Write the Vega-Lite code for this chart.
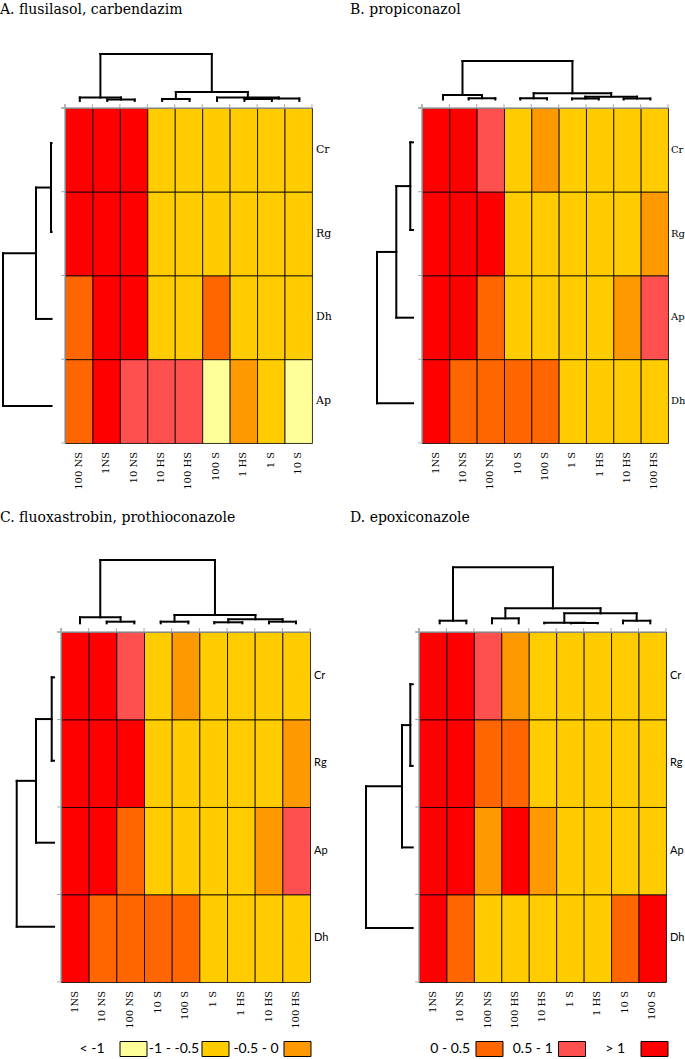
{
"$schema":"https://vega.github.io/schema/vega-lite/v6.json",
"padding":{"top":3,"left":0,"right":0,"bottom":0},
"config":{"view":{"stroke":null}},
"datasets":{
"tk":[{"k":0},{"k":1},{"k":2},{"k":3},{"k":4},{"k":5},{"k":6},{"k":7},{"k":8},{"k":9}],
"legend":[{"v":"< -1","g":1},{"v":"-1 - -0.5","g":1},{"v":"-0.5 - 0","g":1},{"v":"0 - 0.5","g":2},{"v":"0.5 - 1","g":2},{"v":"> 1","g":2}],
"dendro":[
{"p":"A","s":"t","a":1.54,"b":2.54,"ha":-0.084,"hb":-0.084,"h":-0.101},
{"p":"A","s":"t","a":0.54,"b":2.04,"ha":-0.084,"hb":-0.101,"h":-0.125},
{"p":"A","s":"t","a":3.54,"b":4.54,"ha":-0.084,"hb":-0.084,"h":-0.107},
{"p":"A","s":"t","a":6.54,"b":7.54,"ha":-0.084,"hb":-0.084,"h":-0.107},
{"p":"A","s":"t","a":7.04,"b":8.54,"ha":-0.107,"hb":-0.084,"h":-0.113},
{"p":"A","s":"t","a":5.54,"b":7.79,"ha":-0.084,"hb":-0.113,"h":-0.125},
{"p":"A","s":"t","a":4.04,"b":6.665,"ha":-0.107,"hb":-0.125,"h":-0.191},
{"p":"A","s":"t","a":1.29,"b":5.35,"ha":-0.125,"hb":-0.191,"h":-0.645},
{"p":"A","s":"l","a":0.418,"b":1.481,"ha":-0.49,"hb":-0.49,"h":-0.51},
{"p":"A","s":"l","a":0.95,"b":2.519,"ha":-0.51,"hb":-0.49,"h":-1.057},
{"p":"A","s":"l","a":1.734,"b":3.558,"ha":-1.057,"hb":-0.49,"h":-2.26},
{"p":"B","s":"t","a":1.709,"b":2.682,"ha":-0.101,"hb":-0.101,"h":-0.116},
{"p":"B","s":"t","a":0.768,"b":2.196,"ha":-0.101,"hb":-0.116,"h":-0.155},
{"p":"B","s":"t","a":3.597,"b":4.574,"ha":-0.101,"hb":-0.101,"h":-0.116},
{"p":"B","s":"t","a":5.488,"b":6.465,"ha":-0.101,"hb":-0.101,"h":-0.113},
{"p":"B","s":"t","a":7.38,"b":8.353,"ha":-0.101,"hb":-0.101,"h":-0.113},
{"p":"B","s":"t","a":5.977,"b":7.867,"ha":-0.113,"hb":-0.113,"h":-0.135},
{"p":"B","s":"t","a":4.086,"b":6.922,"ha":-0.116,"hb":-0.135,"h":-0.176},
{"p":"B","s":"t","a":1.482,"b":5.504,"ha":-0.155,"hb":-0.176,"h":-0.561},
{"p":"B","s":"l","a":0.41,"b":1.457,"ha":-0.329,"hb":-0.329,"h":-0.428},
{"p":"B","s":"l","a":0.933,"b":2.504,"ha":-0.428,"hb":-0.329,"h":-0.94},
{"p":"B","s":"l","a":1.719,"b":3.526,"ha":-0.94,"hb":-0.329,"h":-1.647},
{"p":"C","s":"t","a":1.652,"b":2.649,"ha":-0.099,"hb":-0.099,"h":-0.118},
{"p":"C","s":"t","a":0.687,"b":2.151,"ha":-0.099,"hb":-0.118,"h":-0.168},
{"p":"C","s":"t","a":3.603,"b":4.601,"ha":-0.099,"hb":-0.099,"h":-0.118},
{"p":"C","s":"t","a":5.54,"b":6.552,"ha":-0.099,"hb":-0.099,"h":-0.111},
{"p":"C","s":"t","a":7.517,"b":8.493,"ha":-0.099,"hb":-0.099,"h":-0.118},
{"p":"C","s":"t","a":6.046,"b":8.005,"ha":-0.111,"hb":-0.118,"h":-0.145},
{"p":"C","s":"t","a":4.102,"b":7.026,"ha":-0.118,"hb":-0.145,"h":-0.194},
{"p":"C","s":"t","a":1.419,"b":5.564,"ha":-0.168,"hb":-0.194,"h":-0.823},
{"p":"C","s":"l","a":0.518,"b":1.471,"ha":-0.253,"hb":-0.253,"h":-0.336},
{"p":"C","s":"l","a":0.995,"b":2.408,"ha":-0.336,"hb":-0.253,"h":-0.904},
{"p":"C","s":"l","a":1.701,"b":3.368,"ha":-0.904,"hb":-0.253,"h":-1.601},
{"p":"D","s":"t","a":0.754,"b":1.724,"ha":-0.099,"hb":-0.099,"h":-0.129},
{"p":"D","s":"t","a":2.66,"b":3.633,"ha":-0.099,"hb":-0.099,"h":-0.156},
{"p":"D","s":"t","a":5.539,"b":6.512,"ha":-0.099,"hb":-0.099,"h":-0.103},
{"p":"D","s":"t","a":4.566,"b":6.026,"ha":-0.099,"hb":-0.103,"h":-0.105},
{"p":"D","s":"t","a":7.434,"b":8.429,"ha":-0.099,"hb":-0.099,"h":-0.129},
{"p":"D","s":"t","a":5.296,"b":7.932,"ha":-0.105,"hb":-0.129,"h":-0.213},
{"p":"D","s":"t","a":3.147,"b":6.614,"ha":-0.156,"hb":-0.213,"h":-0.271},
{"p":"D","s":"t","a":1.239,"b":4.881,"ha":-0.129,"hb":-0.271,"h":-0.739},
{"p":"D","s":"l","a":0.597,"b":1.53,"ha":-0.23,"hb":-0.23,"h":-0.317},
{"p":"D","s":"l","a":1.064,"b":2.462,"ha":-0.317,"hb":-0.23,"h":-0.62},
{"p":"D","s":"l","a":1.763,"b":3.382,"ha":-0.62,"hb":-0.23,"h":-1.931}
],
"cells":[
{"p":"A","c":"100 NS","i":0,"r":"Cr","j":0,"v":"> 1"},
{"p":"A","c":"1NS","i":1,"r":"Cr","j":0,"v":"> 1"},
{"p":"A","c":"10 NS","i":2,"r":"Cr","j":0,"v":"> 1"},
{"p":"A","c":"10 HS","i":3,"r":"Cr","j":0,"v":"-1 - -0.5"},
{"p":"A","c":"100 HS","i":4,"r":"Cr","j":0,"v":"-1 - -0.5"},
{"p":"A","c":"100 S","i":5,"r":"Cr","j":0,"v":"-1 - -0.5"},
{"p":"A","c":"1 HS","i":6,"r":"Cr","j":0,"v":"-1 - -0.5"},
{"p":"A","c":"1 S","i":7,"r":"Cr","j":0,"v":"-1 - -0.5"},
{"p":"A","c":"10 S","i":8,"r":"Cr","j":0,"v":"-1 - -0.5"},
{"p":"A","c":"100 NS","i":0,"r":"Rg","j":1,"v":"> 1"},
{"p":"A","c":"1NS","i":1,"r":"Rg","j":1,"v":"> 1"},
{"p":"A","c":"10 NS","i":2,"r":"Rg","j":1,"v":"> 1"},
{"p":"A","c":"10 HS","i":3,"r":"Rg","j":1,"v":"-1 - -0.5"},
{"p":"A","c":"100 HS","i":4,"r":"Rg","j":1,"v":"-1 - -0.5"},
{"p":"A","c":"100 S","i":5,"r":"Rg","j":1,"v":"-1 - -0.5"},
{"p":"A","c":"1 HS","i":6,"r":"Rg","j":1,"v":"-1 - -0.5"},
{"p":"A","c":"1 S","i":7,"r":"Rg","j":1,"v":"-1 - -0.5"},
{"p":"A","c":"10 S","i":8,"r":"Rg","j":1,"v":"-1 - -0.5"},
{"p":"A","c":"100 NS","i":0,"r":"Dh","j":2,"v":"0 - 0.5"},
{"p":"A","c":"1NS","i":1,"r":"Dh","j":2,"v":"> 1"},
{"p":"A","c":"10 NS","i":2,"r":"Dh","j":2,"v":"> 1"},
{"p":"A","c":"10 HS","i":3,"r":"Dh","j":2,"v":"-1 - -0.5"},
{"p":"A","c":"100 HS","i":4,"r":"Dh","j":2,"v":"-1 - -0.5"},
{"p":"A","c":"100 S","i":5,"r":"Dh","j":2,"v":"0 - 0.5"},
{"p":"A","c":"1 HS","i":6,"r":"Dh","j":2,"v":"-1 - -0.5"},
{"p":"A","c":"1 S","i":7,"r":"Dh","j":2,"v":"-1 - -0.5"},
{"p":"A","c":"10 S","i":8,"r":"Dh","j":2,"v":"-1 - -0.5"},
{"p":"A","c":"100 NS","i":0,"r":"Ap","j":3,"v":"0 - 0.5"},
{"p":"A","c":"1NS","i":1,"r":"Ap","j":3,"v":"> 1"},
{"p":"A","c":"10 NS","i":2,"r":"Ap","j":3,"v":"0.5 - 1"},
{"p":"A","c":"10 HS","i":3,"r":"Ap","j":3,"v":"0.5 - 1"},
{"p":"A","c":"100 HS","i":4,"r":"Ap","j":3,"v":"0.5 - 1"},
{"p":"A","c":"100 S","i":5,"r":"Ap","j":3,"v":"< -1"},
{"p":"A","c":"1 HS","i":6,"r":"Ap","j":3,"v":"-0.5 - 0"},
{"p":"A","c":"1 S","i":7,"r":"Ap","j":3,"v":"-1 - -0.5"},
{"p":"A","c":"10 S","i":8,"r":"Ap","j":3,"v":"< -1"},
{"p":"B","c":"1NS","i":0,"r":"Cr","j":0,"v":"> 1"},
{"p":"B","c":"10 NS","i":1,"r":"Cr","j":0,"v":"> 1"},
{"p":"B","c":"100 NS","i":2,"r":"Cr","j":0,"v":"0.5 - 1"},
{"p":"B","c":"10 S","i":3,"r":"Cr","j":0,"v":"-1 - -0.5"},
{"p":"B","c":"100 S","i":4,"r":"Cr","j":0,"v":"-0.5 - 0"},
{"p":"B","c":"1 S","i":5,"r":"Cr","j":0,"v":"-1 - -0.5"},
{"p":"B","c":"1 HS","i":6,"r":"Cr","j":0,"v":"-1 - -0.5"},
{"p":"B","c":"10 HS","i":7,"r":"Cr","j":0,"v":"-1 - -0.5"},
{"p":"B","c":"100 HS","i":8,"r":"Cr","j":0,"v":"-1 - -0.5"},
{"p":"B","c":"1NS","i":0,"r":"Rg","j":1,"v":"> 1"},
{"p":"B","c":"10 NS","i":1,"r":"Rg","j":1,"v":"> 1"},
{"p":"B","c":"100 NS","i":2,"r":"Rg","j":1,"v":"> 1"},
{"p":"B","c":"10 S","i":3,"r":"Rg","j":1,"v":"-1 - -0.5"},
{"p":"B","c":"100 S","i":4,"r":"Rg","j":1,"v":"-1 - -0.5"},
{"p":"B","c":"1 S","i":5,"r":"Rg","j":1,"v":"-1 - -0.5"},
{"p":"B","c":"1 HS","i":6,"r":"Rg","j":1,"v":"-1 - -0.5"},
{"p":"B","c":"10 HS","i":7,"r":"Rg","j":1,"v":"-1 - -0.5"},
{"p":"B","c":"100 HS","i":8,"r":"Rg","j":1,"v":"-0.5 - 0"},
{"p":"B","c":"1NS","i":0,"r":"Ap","j":2,"v":"> 1"},
{"p":"B","c":"10 NS","i":1,"r":"Ap","j":2,"v":"> 1"},
{"p":"B","c":"100 NS","i":2,"r":"Ap","j":2,"v":"0 - 0.5"},
{"p":"B","c":"10 S","i":3,"r":"Ap","j":2,"v":"-1 - -0.5"},
{"p":"B","c":"100 S","i":4,"r":"Ap","j":2,"v":"-1 - -0.5"},
{"p":"B","c":"1 S","i":5,"r":"Ap","j":2,"v":"-1 - -0.5"},
{"p":"B","c":"1 HS","i":6,"r":"Ap","j":2,"v":"-1 - -0.5"},
{"p":"B","c":"10 HS","i":7,"r":"Ap","j":2,"v":"-0.5 - 0"},
{"p":"B","c":"100 HS","i":8,"r":"Ap","j":2,"v":"0.5 - 1"},
{"p":"B","c":"1NS","i":0,"r":"Dh","j":3,"v":"> 1"},
{"p":"B","c":"10 NS","i":1,"r":"Dh","j":3,"v":"0 - 0.5"},
{"p":"B","c":"100 NS","i":2,"r":"Dh","j":3,"v":"0 - 0.5"},
{"p":"B","c":"10 S","i":3,"r":"Dh","j":3,"v":"0 - 0.5"},
{"p":"B","c":"100 S","i":4,"r":"Dh","j":3,"v":"0 - 0.5"},
{"p":"B","c":"1 S","i":5,"r":"Dh","j":3,"v":"-1 - -0.5"},
{"p":"B","c":"1 HS","i":6,"r":"Dh","j":3,"v":"-1 - -0.5"},
{"p":"B","c":"10 HS","i":7,"r":"Dh","j":3,"v":"-1 - -0.5"},
{"p":"B","c":"100 HS","i":8,"r":"Dh","j":3,"v":"-1 - -0.5"},
{"p":"C","c":"1NS","i":0,"r":"Cr","j":0,"v":"> 1"},
{"p":"C","c":"10 NS","i":1,"r":"Cr","j":0,"v":"> 1"},
{"p":"C","c":"100 NS","i":2,"r":"Cr","j":0,"v":"0.5 - 1"},
{"p":"C","c":"10 S","i":3,"r":"Cr","j":0,"v":"-1 - -0.5"},
{"p":"C","c":"100 S","i":4,"r":"Cr","j":0,"v":"-0.5 - 0"},
{"p":"C","c":"1 S","i":5,"r":"Cr","j":0,"v":"-1 - -0.5"},
{"p":"C","c":"1 HS","i":6,"r":"Cr","j":0,"v":"-1 - -0.5"},
{"p":"C","c":"10 HS","i":7,"r":"Cr","j":0,"v":"-1 - -0.5"},
{"p":"C","c":"100 HS","i":8,"r":"Cr","j":0,"v":"-1 - -0.5"},
{"p":"C","c":"1NS","i":0,"r":"Rg","j":1,"v":"> 1"},
{"p":"C","c":"10 NS","i":1,"r":"Rg","j":1,"v":"> 1"},
{"p":"C","c":"100 NS","i":2,"r":"Rg","j":1,"v":"> 1"},
{"p":"C","c":"10 S","i":3,"r":"Rg","j":1,"v":"-1 - -0.5"},
{"p":"C","c":"100 S","i":4,"r":"Rg","j":1,"v":"-1 - -0.5"},
{"p":"C","c":"1 S","i":5,"r":"Rg","j":1,"v":"-1 - -0.5"},
{"p":"C","c":"1 HS","i":6,"r":"Rg","j":1,"v":"-1 - -0.5"},
{"p":"C","c":"10 HS","i":7,"r":"Rg","j":1,"v":"-1 - -0.5"},
{"p":"C","c":"100 HS","i":8,"r":"Rg","j":1,"v":"-0.5 - 0"},
{"p":"C","c":"1NS","i":0,"r":"Ap","j":2,"v":"> 1"},
{"p":"C","c":"10 NS","i":1,"r":"Ap","j":2,"v":"> 1"},
{"p":"C","c":"100 NS","i":2,"r":"Ap","j":2,"v":"0 - 0.5"},
{"p":"C","c":"10 S","i":3,"r":"Ap","j":2,"v":"-1 - -0.5"},
{"p":"C","c":"100 S","i":4,"r":"Ap","j":2,"v":"-1 - -0.5"},
{"p":"C","c":"1 S","i":5,"r":"Ap","j":2,"v":"-1 - -0.5"},
{"p":"C","c":"1 HS","i":6,"r":"Ap","j":2,"v":"-1 - -0.5"},
{"p":"C","c":"10 HS","i":7,"r":"Ap","j":2,"v":"-0.5 - 0"},
{"p":"C","c":"100 HS","i":8,"r":"Ap","j":2,"v":"0.5 - 1"},
{"p":"C","c":"1NS","i":0,"r":"Dh","j":3,"v":"> 1"},
{"p":"C","c":"10 NS","i":1,"r":"Dh","j":3,"v":"0 - 0.5"},
{"p":"C","c":"100 NS","i":2,"r":"Dh","j":3,"v":"0 - 0.5"},
{"p":"C","c":"10 S","i":3,"r":"Dh","j":3,"v":"0 - 0.5"},
{"p":"C","c":"100 S","i":4,"r":"Dh","j":3,"v":"0 - 0.5"},
{"p":"C","c":"1 S","i":5,"r":"Dh","j":3,"v":"-1 - -0.5"},
{"p":"C","c":"1 HS","i":6,"r":"Dh","j":3,"v":"-1 - -0.5"},
{"p":"C","c":"10 HS","i":7,"r":"Dh","j":3,"v":"-1 - -0.5"},
{"p":"C","c":"100 HS","i":8,"r":"Dh","j":3,"v":"-1 - -0.5"},
{"p":"D","c":"1NS","i":0,"r":"Cr","j":0,"v":"> 1"},
{"p":"D","c":"10 NS","i":1,"r":"Cr","j":0,"v":"> 1"},
{"p":"D","c":"100 NS","i":2,"r":"Cr","j":0,"v":"0.5 - 1"},
{"p":"D","c":"100 HS","i":3,"r":"Cr","j":0,"v":"-0.5 - 0"},
{"p":"D","c":"10 HS","i":4,"r":"Cr","j":0,"v":"-1 - -0.5"},
{"p":"D","c":"1 S","i":5,"r":"Cr","j":0,"v":"-1 - -0.5"},
{"p":"D","c":"1 HS","i":6,"r":"Cr","j":0,"v":"-1 - -0.5"},
{"p":"D","c":"10 S","i":7,"r":"Cr","j":0,"v":"-1 - -0.5"},
{"p":"D","c":"100 S","i":8,"r":"Cr","j":0,"v":"-1 - -0.5"},
{"p":"D","c":"1NS","i":0,"r":"Rg","j":1,"v":"> 1"},
{"p":"D","c":"10 NS","i":1,"r":"Rg","j":1,"v":"> 1"},
{"p":"D","c":"100 NS","i":2,"r":"Rg","j":1,"v":"0 - 0.5"},
{"p":"D","c":"100 HS","i":3,"r":"Rg","j":1,"v":"0 - 0.5"},
{"p":"D","c":"10 HS","i":4,"r":"Rg","j":1,"v":"-1 - -0.5"},
{"p":"D","c":"1 S","i":5,"r":"Rg","j":1,"v":"-1 - -0.5"},
{"p":"D","c":"1 HS","i":6,"r":"Rg","j":1,"v":"-1 - -0.5"},
{"p":"D","c":"10 S","i":7,"r":"Rg","j":1,"v":"-1 - -0.5"},
{"p":"D","c":"100 S","i":8,"r":"Rg","j":1,"v":"-1 - -0.5"},
{"p":"D","c":"1NS","i":0,"r":"Ap","j":2,"v":"> 1"},
{"p":"D","c":"10 NS","i":1,"r":"Ap","j":2,"v":"> 1"},
{"p":"D","c":"100 NS","i":2,"r":"Ap","j":2,"v":"-0.5 - 0"},
{"p":"D","c":"100 HS","i":3,"r":"Ap","j":2,"v":"> 1"},
{"p":"D","c":"10 HS","i":4,"r":"Ap","j":2,"v":"-0.5 - 0"},
{"p":"D","c":"1 S","i":5,"r":"Ap","j":2,"v":"-1 - -0.5"},
{"p":"D","c":"1 HS","i":6,"r":"Ap","j":2,"v":"-1 - -0.5"},
{"p":"D","c":"10 S","i":7,"r":"Ap","j":2,"v":"-1 - -0.5"},
{"p":"D","c":"100 S","i":8,"r":"Ap","j":2,"v":"-1 - -0.5"},
{"p":"D","c":"1NS","i":0,"r":"Dh","j":3,"v":"> 1"},
{"p":"D","c":"10 NS","i":1,"r":"Dh","j":3,"v":"0 - 0.5"},
{"p":"D","c":"100 NS","i":2,"r":"Dh","j":3,"v":"-1 - -0.5"},
{"p":"D","c":"100 HS","i":3,"r":"Dh","j":3,"v":"-1 - -0.5"},
{"p":"D","c":"10 HS","i":4,"r":"Dh","j":3,"v":"-1 - -0.5"},
{"p":"D","c":"1 S","i":5,"r":"Dh","j":3,"v":"-1 - -0.5"},
{"p":"D","c":"1 HS","i":6,"r":"Dh","j":3,"v":"-1 - -0.5"},
{"p":"D","c":"10 S","i":7,"r":"Dh","j":3,"v":"0 - 0.5"},
{"p":"D","c":"100 S","i":8,"r":"Dh","j":3,"v":"> 1"}
]
},
"spacing":11,
"vconcat":[
{"hconcat":[
{"width":335,"height":472,
"title":{"text":"A. flusilasol, carbendazim","anchor":"start","frame":"group","font":"DejaVu Serif","fontSize":14,"fontWeight":"normal","color":"#000","offset":11},
"layer":[
{"data":{"name":"cells"},"transform":[{"filter":"datum.p==='A'"}],"mark":{"type":"rect","stroke":"#000","strokeWidth":0.8},
"encoding":{"x":{"field":"i","type":"quantitative","bin":{"binned":true,"step":1},"scale":{"domain":[-2.369,9.84],"nice":false,"zero":false},"axis":null},
"y":{"field":"j","type":"quantitative","bin":{"binned":true,"step":1},"scale":{"domain":[-0.955,4.681],"nice":false,"zero":false,"reverse":true},"axis":null},
"color":{"field":"v","type":"nominal","scale":{"domain":["< -1","-1 - -0.5","-0.5 - 0","0 - 0.5","0.5 - 1","> 1"],"range":["#FFFF99","#FFCC00","#FF9900","#FF6600","#FF5050","#FF0000"]},"legend":null}}},
{"data":{"name":"tk"},"transform":[{"filter":"datum.k===0"}],"mark":{"type":"rule","color":"#a6a6a6","strokeWidth":1.5},"encoding":{"x":{"datum":-0.14},"x2":{"datum":9},"y":{"datum":0}}},
{"data":{"name":"tk"},"transform":[{"filter":"datum.k===0"}],"mark":{"type":"rule","color":"#a6a6a6","strokeWidth":1.5},"encoding":{"x":{"datum":0},"y":{"datum":-0.045},"y2":{"datum":4}}},
{"data":{"name":"tk"},"mark":{"type":"rule","color":"#a6a6a6","strokeWidth":1},"encoding":{"x":{"field":"k","type":"quantitative"},"y":{"datum":0},"y2":{"datum":-0.045}}},
{"data":{"name":"tk"},"transform":[{"filter":"datum.k<=4"}],"mark":{"type":"rule","color":"#a6a6a6","strokeWidth":1},"encoding":{"y":{"field":"k","type":"quantitative"},"x":{"datum":0},"x2":{"datum":-0.14}}},
{"data":{"name":"dendro"},"transform":[{"filter":"datum.p==='A' && datum.s==='t'"}],"mark":{"type":"rule","color":"#000","strokeWidth":2,"strokeCap":"square"},"encoding":{"x":{"field":"a","type":"quantitative"},"y":{"field":"ha","type":"quantitative"},"y2":{"field":"h"}}},
{"data":{"name":"dendro"},"transform":[{"filter":"datum.p==='A' && datum.s==='t'"}],"mark":{"type":"rule","color":"#000","strokeWidth":2,"strokeCap":"square"},"encoding":{"x":{"field":"b","type":"quantitative"},"y":{"field":"hb","type":"quantitative"},"y2":{"field":"h"}}},
{"data":{"name":"dendro"},"transform":[{"filter":"datum.p==='A' && datum.s==='t'"}],"mark":{"type":"rule","color":"#000","strokeWidth":2,"strokeCap":"square"},"encoding":{"x":{"field":"a","type":"quantitative"},"x2":{"field":"b"},"y":{"field":"h","type":"quantitative"}}},
{"data":{"name":"dendro"},"transform":[{"filter":"datum.p==='A' && datum.s==='l'"}],"mark":{"type":"rule","color":"#000","strokeWidth":2,"strokeCap":"square"},"encoding":{"y":{"field":"a","type":"quantitative"},"x":{"field":"ha","type":"quantitative"},"x2":{"field":"h"}}},
{"data":{"name":"dendro"},"transform":[{"filter":"datum.p==='A' && datum.s==='l'"}],"mark":{"type":"rule","color":"#000","strokeWidth":2,"strokeCap":"square"},"encoding":{"y":{"field":"b","type":"quantitative"},"x":{"field":"hb","type":"quantitative"},"x2":{"field":"h"}}},
{"data":{"name":"dendro"},"transform":[{"filter":"datum.p==='A' && datum.s==='l'"}],"mark":{"type":"rule","color":"#000","strokeWidth":2,"strokeCap":"square"},"encoding":{"y":{"field":"a","type":"quantitative"},"y2":{"field":"b"},"x":{"field":"h","type":"quantitative"}}},
{"data":{"name":"cells"},"transform":[{"filter":"datum.p==='A' && datum.j===0"}],"mark":{"type":"text","angle":270,"align":"right","baseline":"middle","dx":-9,"dy":13.7,"font":"DejaVu Serif","fontSize":10,"fill":"#000"},
"encoding":{"x":{"field":"i","type":"quantitative"},"y":{"datum":4},"text":{"field":"c"}}},
{"data":{"name":"cells"},"transform":[{"filter":"datum.p==='A' && datum.i===0"}],"mark":{"type":"text","align":"left","baseline":"middle","dx":4,"dy":41.9,"font":"DejaVu Serif","fontSize":11,"fill":"#000"},
"encoding":{"y":{"field":"j","type":"quantitative"},"x":{"datum":9},"text":{"field":"r"}}}
]},
{"width":335,"height":472,
"title":{"text":"B. propiconazol","anchor":"start","frame":"group","font":"DejaVu Serif","fontSize":14,"fontWeight":"normal","color":"#000","offset":11},
"layer":[
{"data":{"name":"cells"},"transform":[{"filter":"datum.p==='B'"}],"mark":{"type":"rect","stroke":"#000","strokeWidth":0.8},
"encoding":{"x":{"field":"i","type":"quantitative","bin":{"binned":true,"step":1},"scale":{"domain":[-2.634,9.623],"nice":false,"zero":false},"axis":null},
"y":{"field":"j","type":"quantitative","bin":{"binned":true,"step":1},"scale":{"domain":[-0.955,4.681],"nice":false,"zero":false,"reverse":true},"axis":null},
"color":{"field":"v","type":"nominal","scale":{"domain":["< -1","-1 - -0.5","-0.5 - 0","0 - 0.5","0.5 - 1","> 1"],"range":["#FFFF99","#FFCC00","#FF9900","#FF6600","#FF5050","#FF0000"]},"legend":null}}},
{"data":{"name":"tk"},"transform":[{"filter":"datum.k===0"}],"mark":{"type":"rule","color":"#a6a6a6","strokeWidth":1.5},"encoding":{"x":{"datum":-0.14},"x2":{"datum":9},"y":{"datum":0}}},
{"data":{"name":"tk"},"transform":[{"filter":"datum.k===0"}],"mark":{"type":"rule","color":"#a6a6a6","strokeWidth":1.5},"encoding":{"x":{"datum":0},"y":{"datum":-0.045},"y2":{"datum":4}}},
{"data":{"name":"tk"},"mark":{"type":"rule","color":"#a6a6a6","strokeWidth":1},"encoding":{"x":{"field":"k","type":"quantitative"},"y":{"datum":0},"y2":{"datum":-0.045}}},
{"data":{"name":"tk"},"transform":[{"filter":"datum.k<=4"}],"mark":{"type":"rule","color":"#a6a6a6","strokeWidth":1},"encoding":{"y":{"field":"k","type":"quantitative"},"x":{"datum":0},"x2":{"datum":-0.14}}},
{"data":{"name":"dendro"},"transform":[{"filter":"datum.p==='B' && datum.s==='t'"}],"mark":{"type":"rule","color":"#000","strokeWidth":2,"strokeCap":"square"},"encoding":{"x":{"field":"a","type":"quantitative"},"y":{"field":"ha","type":"quantitative"},"y2":{"field":"h"}}},
{"data":{"name":"dendro"},"transform":[{"filter":"datum.p==='B' && datum.s==='t'"}],"mark":{"type":"rule","color":"#000","strokeWidth":2,"strokeCap":"square"},"encoding":{"x":{"field":"b","type":"quantitative"},"y":{"field":"hb","type":"quantitative"},"y2":{"field":"h"}}},
{"data":{"name":"dendro"},"transform":[{"filter":"datum.p==='B' && datum.s==='t'"}],"mark":{"type":"rule","color":"#000","strokeWidth":2,"strokeCap":"square"},"encoding":{"x":{"field":"a","type":"quantitative"},"x2":{"field":"b"},"y":{"field":"h","type":"quantitative"}}},
{"data":{"name":"dendro"},"transform":[{"filter":"datum.p==='B' && datum.s==='l'"}],"mark":{"type":"rule","color":"#000","strokeWidth":2,"strokeCap":"square"},"encoding":{"y":{"field":"a","type":"quantitative"},"x":{"field":"ha","type":"quantitative"},"x2":{"field":"h"}}},
{"data":{"name":"dendro"},"transform":[{"filter":"datum.p==='B' && datum.s==='l'"}],"mark":{"type":"rule","color":"#000","strokeWidth":2,"strokeCap":"square"},"encoding":{"y":{"field":"b","type":"quantitative"},"x":{"field":"hb","type":"quantitative"},"x2":{"field":"h"}}},
{"data":{"name":"dendro"},"transform":[{"filter":"datum.p==='B' && datum.s==='l'"}],"mark":{"type":"rule","color":"#000","strokeWidth":2,"strokeCap":"square"},"encoding":{"y":{"field":"a","type":"quantitative"},"y2":{"field":"b"},"x":{"field":"h","type":"quantitative"}}},
{"data":{"name":"cells"},"transform":[{"filter":"datum.p==='B' && datum.j===0"}],"mark":{"type":"text","angle":270,"align":"right","baseline":"middle","dx":-9,"dy":13.7,"font":"DejaVu Serif","fontSize":10,"fill":"#000"},
"encoding":{"x":{"field":"i","type":"quantitative"},"y":{"datum":4},"text":{"field":"c"}}},
{"data":{"name":"cells"},"transform":[{"filter":"datum.p==='B' && datum.i===0"}],"mark":{"type":"text","align":"left","baseline":"middle","dx":3,"dy":41.9,"font":"DejaVu Serif","fontSize":10,"fill":"#000"},
"encoding":{"y":{"field":"j","type":"quantitative"},"x":{"datum":9},"text":{"field":"r"}}}
]}
],"spacing":15},
{"vconcat":[
{"hconcat":[
{"width":335,"height":494,
"title":{"text":"C. fluoxastrobin, prothioconazole","anchor":"start","frame":"group","font":"DejaVu Serif","fontSize":14,"fontWeight":"normal","color":"#000","offset":14},
"layer":[
{"data":{"name":"cells"},"transform":[{"filter":"datum.p==='C'"}],"mark":{"type":"rect","stroke":"#000","strokeWidth":0.8},
"encoding":{"x":{"field":"i","type":"quantitative","bin":{"binned":true,"step":1},"scale":{"domain":[-2.205,9.902],"nice":false,"zero":false},"axis":null},
"y":{"field":"j","type":"quantitative","bin":{"binned":true,"step":1},"scale":{"domain":[-1.063,4.583],"nice":false,"zero":false,"reverse":true},"axis":null},
"color":{"field":"v","type":"nominal","scale":{"domain":["< -1","-1 - -0.5","-0.5 - 0","0 - 0.5","0.5 - 1","> 1"],"range":["#FFFF99","#FFCC00","#FF9900","#FF6600","#FF5050","#FF0000"]},"legend":null}}},
{"data":{"name":"tk"},"transform":[{"filter":"datum.k===0"}],"mark":{"type":"rule","color":"#a6a6a6","strokeWidth":1.5},"encoding":{"x":{"datum":-0.14},"x2":{"datum":9},"y":{"datum":0}}},
{"data":{"name":"tk"},"transform":[{"filter":"datum.k===0"}],"mark":{"type":"rule","color":"#a6a6a6","strokeWidth":1.5},"encoding":{"x":{"datum":0},"y":{"datum":-0.045},"y2":{"datum":4}}},
{"data":{"name":"tk"},"mark":{"type":"rule","color":"#a6a6a6","strokeWidth":1},"encoding":{"x":{"field":"k","type":"quantitative"},"y":{"datum":0},"y2":{"datum":-0.045}}},
{"data":{"name":"tk"},"transform":[{"filter":"datum.k<=4"}],"mark":{"type":"rule","color":"#a6a6a6","strokeWidth":1},"encoding":{"y":{"field":"k","type":"quantitative"},"x":{"datum":0},"x2":{"datum":-0.14}}},
{"data":{"name":"dendro"},"transform":[{"filter":"datum.p==='C' && datum.s==='t'"}],"mark":{"type":"rule","color":"#000","strokeWidth":2,"strokeCap":"square"},"encoding":{"x":{"field":"a","type":"quantitative"},"y":{"field":"ha","type":"quantitative"},"y2":{"field":"h"}}},
{"data":{"name":"dendro"},"transform":[{"filter":"datum.p==='C' && datum.s==='t'"}],"mark":{"type":"rule","color":"#000","strokeWidth":2,"strokeCap":"square"},"encoding":{"x":{"field":"b","type":"quantitative"},"y":{"field":"hb","type":"quantitative"},"y2":{"field":"h"}}},
{"data":{"name":"dendro"},"transform":[{"filter":"datum.p==='C' && datum.s==='t'"}],"mark":{"type":"rule","color":"#000","strokeWidth":2,"strokeCap":"square"},"encoding":{"x":{"field":"a","type":"quantitative"},"x2":{"field":"b"},"y":{"field":"h","type":"quantitative"}}},
{"data":{"name":"dendro"},"transform":[{"filter":"datum.p==='C' && datum.s==='l'"}],"mark":{"type":"rule","color":"#000","strokeWidth":2,"strokeCap":"square"},"encoding":{"y":{"field":"a","type":"quantitative"},"x":{"field":"ha","type":"quantitative"},"x2":{"field":"h"}}},
{"data":{"name":"dendro"},"transform":[{"filter":"datum.p==='C' && datum.s==='l'"}],"mark":{"type":"rule","color":"#000","strokeWidth":2,"strokeCap":"square"},"encoding":{"y":{"field":"b","type":"quantitative"},"x":{"field":"hb","type":"quantitative"},"x2":{"field":"h"}}},
{"data":{"name":"dendro"},"transform":[{"filter":"datum.p==='C' && datum.s==='l'"}],"mark":{"type":"rule","color":"#000","strokeWidth":2,"strokeCap":"square"},"encoding":{"y":{"field":"a","type":"quantitative"},"y2":{"field":"b"},"x":{"field":"h","type":"quantitative"}}},
{"data":{"name":"cells"},"transform":[{"filter":"datum.p==='C' && datum.j===0"}],"mark":{"type":"text","angle":270,"align":"right","baseline":"middle","dx":-9,"dy":13.8,"font":"DejaVu Serif","fontSize":10,"fill":"#000"},
"encoding":{"x":{"field":"i","type":"quantitative"},"y":{"datum":4},"text":{"field":"c"}}},
{"data":{"name":"cells"},"transform":[{"filter":"datum.p==='C' && datum.i===0"}],"mark":{"type":"text","align":"left","baseline":"middle","dx":4,"dy":43.75,"font":"Lato","fontSize":11,"fill":"#000"},
"encoding":{"y":{"field":"j","type":"quantitative"},"x":{"datum":9},"text":{"field":"r"}}}
]},
{"width":335,"height":494,
"title":{"text":"D. epoxiconazole","anchor":"start","frame":"group","font":"DejaVu Serif","fontSize":14,"fontWeight":"normal","color":"#000","offset":14},
"layer":[
{"data":{"name":"cells"},"transform":[{"filter":"datum.p==='D'"}],"mark":{"type":"rect","stroke":"#000","strokeWidth":0.8},
"encoding":{"x":{"field":"i","type":"quantitative","bin":{"binned":true,"step":1},"scale":{"domain":[-2.515,9.694],"nice":false,"zero":false},"axis":null},
"y":{"field":"j","type":"quantitative","bin":{"binned":true,"step":1},"scale":{"domain":[-1.063,4.583],"nice":false,"zero":false,"reverse":true},"axis":null},
"color":{"field":"v","type":"nominal","scale":{"domain":["< -1","-1 - -0.5","-0.5 - 0","0 - 0.5","0.5 - 1","> 1"],"range":["#FFFF99","#FFCC00","#FF9900","#FF6600","#FF5050","#FF0000"]},"legend":null}}},
{"data":{"name":"tk"},"transform":[{"filter":"datum.k===0"}],"mark":{"type":"rule","color":"#a6a6a6","strokeWidth":1.5},"encoding":{"x":{"datum":-0.14},"x2":{"datum":9},"y":{"datum":0}}},
{"data":{"name":"tk"},"transform":[{"filter":"datum.k===0"}],"mark":{"type":"rule","color":"#a6a6a6","strokeWidth":1.5},"encoding":{"x":{"datum":0},"y":{"datum":-0.045},"y2":{"datum":4}}},
{"data":{"name":"tk"},"mark":{"type":"rule","color":"#a6a6a6","strokeWidth":1},"encoding":{"x":{"field":"k","type":"quantitative"},"y":{"datum":0},"y2":{"datum":-0.045}}},
{"data":{"name":"tk"},"transform":[{"filter":"datum.k<=4"}],"mark":{"type":"rule","color":"#a6a6a6","strokeWidth":1},"encoding":{"y":{"field":"k","type":"quantitative"},"x":{"datum":0},"x2":{"datum":-0.14}}},
{"data":{"name":"dendro"},"transform":[{"filter":"datum.p==='D' && datum.s==='t'"}],"mark":{"type":"rule","color":"#000","strokeWidth":2,"strokeCap":"square"},"encoding":{"x":{"field":"a","type":"quantitative"},"y":{"field":"ha","type":"quantitative"},"y2":{"field":"h"}}},
{"data":{"name":"dendro"},"transform":[{"filter":"datum.p==='D' && datum.s==='t'"}],"mark":{"type":"rule","color":"#000","strokeWidth":2,"strokeCap":"square"},"encoding":{"x":{"field":"b","type":"quantitative"},"y":{"field":"hb","type":"quantitative"},"y2":{"field":"h"}}},
{"data":{"name":"dendro"},"transform":[{"filter":"datum.p==='D' && datum.s==='t'"}],"mark":{"type":"rule","color":"#000","strokeWidth":2,"strokeCap":"square"},"encoding":{"x":{"field":"a","type":"quantitative"},"x2":{"field":"b"},"y":{"field":"h","type":"quantitative"}}},
{"data":{"name":"dendro"},"transform":[{"filter":"datum.p==='D' && datum.s==='l'"}],"mark":{"type":"rule","color":"#000","strokeWidth":2,"strokeCap":"square"},"encoding":{"y":{"field":"a","type":"quantitative"},"x":{"field":"ha","type":"quantitative"},"x2":{"field":"h"}}},
{"data":{"name":"dendro"},"transform":[{"filter":"datum.p==='D' && datum.s==='l'"}],"mark":{"type":"rule","color":"#000","strokeWidth":2,"strokeCap":"square"},"encoding":{"y":{"field":"b","type":"quantitative"},"x":{"field":"hb","type":"quantitative"},"x2":{"field":"h"}}},
{"data":{"name":"dendro"},"transform":[{"filter":"datum.p==='D' && datum.s==='l'"}],"mark":{"type":"rule","color":"#000","strokeWidth":2,"strokeCap":"square"},"encoding":{"y":{"field":"a","type":"quantitative"},"y2":{"field":"b"},"x":{"field":"h","type":"quantitative"}}},
{"data":{"name":"cells"},"transform":[{"filter":"datum.p==='D' && datum.j===0"}],"mark":{"type":"text","angle":270,"align":"right","baseline":"middle","dx":-9,"dy":13.7,"font":"DejaVu Serif","fontSize":10,"fill":"#000"},
"encoding":{"x":{"field":"i","type":"quantitative"},"y":{"datum":4},"text":{"field":"c"}}},
{"data":{"name":"cells"},"transform":[{"filter":"datum.p==='D' && datum.i===0"}],"mark":{"type":"text","align":"left","baseline":"middle","dx":4,"dy":43.75,"font":"Lato","fontSize":11,"fill":"#000"},
"encoding":{"y":{"field":"j","type":"quantitative"},"x":{"datum":9},"text":{"field":"r"}}}
]}
],"spacing":15},
{"hconcat":[
{"width":335,"height":20,"data":{"name":"legend"},"transform":[{"filter":"datum.g===1"}],
"layer":[
{"mark":{"type":"bar","width":27,"height":15,"xOffset":28.5,"stroke":"#000","strokeWidth":1},
"encoding":{"x":{"field":"v","type":"nominal","sort":null,"scale":{"paddingInner":0,"paddingOuter":0.543,"align":0.719},"axis":null},
"y":{"datum":"k","type":"nominal","axis":null},
"color":{"field":"v","type":"nominal","scale":{"domain":["< -1","-1 - -0.5","-0.5 - 0","0 - 0.5","0.5 - 1","> 1"],"range":["#FFFF99","#FFCC00","#FF9900","#FF6600","#FF5050","#FF0000"]},"legend":null}}},
{"mark":{"type":"text","dx":-13,"align":"center","baseline":"middle","font":"Lato","fontSize":14,"fill":"#000"},
"encoding":{"x":{"field":"v","type":"nominal","sort":null},"text":{"field":"v"}}}
]},
{"width":335,"height":20,"data":{"name":"legend"},"transform":[{"filter":"datum.g===2"}],
"layer":[
{"mark":{"type":"bar","width":27,"height":15,"xOffset":28.25,"stroke":"#000","strokeWidth":1},
"encoding":{"x":{"field":"v","type":"nominal","sort":null,"scale":{"paddingInner":0,"paddingOuter":0.53,"align":0.8},"axis":null},
"y":{"datum":"k","type":"nominal","axis":null},
"color":{"field":"v","type":"nominal","scale":{"domain":["< -1","-1 - -0.5","-0.5 - 0","0 - 0.5","0.5 - 1","> 1"],"range":["#FFFF99","#FFCC00","#FF9900","#FF6600","#FF5050","#FF0000"]},"legend":null}}},
{"mark":{"type":"text","dx":-11,"align":"center","baseline":"middle","font":"Lato","fontSize":14,"fill":"#000"},
"encoding":{"x":{"field":"v","type":"nominal","sort":null},"text":{"field":"v"}}}
]}
],"spacing":15}
],"spacing":6}
]
}
